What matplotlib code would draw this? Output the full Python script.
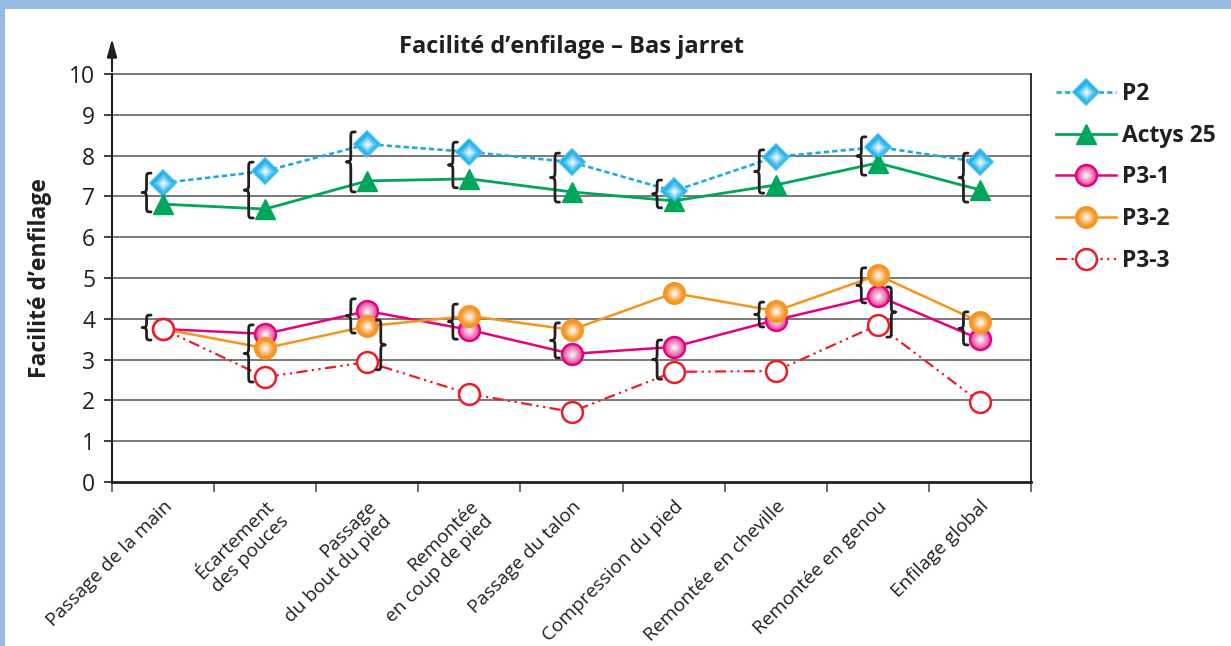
import numpy as np
import matplotlib
matplotlib.use("Agg")
import matplotlib.pyplot as plt
from matplotlib import font_manager
from matplotlib.path import Path
from matplotlib.patches import PathPatch, FancyArrowPatch, Rectangle
from matplotlib.legend_handler import HandlerTuple
from matplotlib.colors import to_rgb

# ---------------- data ----------------
categories = ["Passage de la main", "Écartement\ndes pouces", "Passage\ndu bout du pied",
              "Remontée\nen coup de pied", "Passage du talon", "Compression du pied",
              "Remontée en cheville", "Remontée en genou", "Enfilage global"]
p2 = [7.33, 7.62, 8.28, 8.09, 7.84, 7.13, 7.97, 8.21, 7.84]
actys25 = [6.81, 6.69, 7.38, 7.43, 7.11, 6.89, 7.28, 7.82, 7.16]
p3_1 = [3.75, 3.63, 4.19, 3.73, 3.14, 3.31, 3.97, 4.56, 3.50]
p3_2 = [3.75, 3.28, 3.82, 4.07, 3.73, 4.63, 4.19, 5.07, 3.92]
p3_3 = [3.75, 2.57, 2.94, 2.16, 1.72, 2.70, 2.72, 3.85, 1.96]
yticks = list(range(0, 11))
# braces: (category index, side, low, high)
braces = [(0, "L", 6.62, 7.57), (0, "L", 3.48, 4.09),
          (1, "L", 6.47, 7.84), (1, "L", 2.45, 3.85),
          (2, "L", 7.11, 8.58), (2, "L", 3.65, 4.49), (2, "R", 2.75, 3.97),
          (3, "L", 7.21, 8.33), (3, "L", 3.50, 4.36),
          (4, "L", 6.86, 8.06), (4, "L", 3.04, 3.90),
          (5, "L", 6.72, 7.40), (5, "L", 2.52, 3.48),
          (6, "L", 7.08, 8.14), (6, "L", 3.80, 4.41),
          (7, "L", 7.52, 8.46), (7, "L", 4.39, 5.25), (7, "R", 3.55, 4.78),
          (8, "L", 6.86, 8.06), (8, "L", 3.36, 4.17)]

names = {f.name for f in font_manager.fontManager.ttflist}
base_font = "Open Sans" if "Open Sans" in names else "DejaVu Sans"
plt.rcParams['font.family'] = [base_font, 'DejaVu Sans']

W, H = 1231, 646
fig = plt.figure(figsize=(W / 100, H / 100), dpi=100)
fig.patch.set_facecolor("white")
# blue frame
fig.patches.append(Rectangle((0, 1 - 9 / H), 1, 9 / H, transform=fig.transFigure,
                             facecolor="#95B9E3", edgecolor="none", zorder=0))
fig.patches.append(Rectangle((0, 0), 5 / W, 1, transform=fig.transFigure,
                             facecolor="#95B9E3", edgecolor="none", zorder=0))

L, R, B, T = 112, 1031, 482, 74
ax = fig.add_axes([L / W, (H - B) / H, (R - L) / W, (B - T) / H])
ax.set_xlim(0, len(categories))
ax.set_ylim(0, 10)
ax.patch.set_alpha(0)

for y in yticks[1:]:
    ax.axhline(y, color="#6e6e6e", lw=1.3, zorder=1, clip_on=False)

ax.spines['top'].set_visible(False)
ax.spines['right'].set_color("#231F20")
ax.spines['right'].set_linewidth(1.3)
ax.spines['left'].set_color("#231F20")
ax.spines['left'].set_linewidth(1.5)
ax.spines['bottom'].set_color("#231F20")
ax.spines['bottom'].set_linewidth(2.0)

ax.set_yticks(yticks)
ax.set_yticklabels([str(v) for v in yticks], fontsize=16.5, color="#231F20")
ax.tick_params(axis='y', length=6, width=1.2, color="#231F20", pad=6)

x = np.arange(len(categories)) + 0.5
ax.set_xticks(np.arange(len(categories) + 1))
ax.set_xticklabels([])
ax.tick_params(axis='x', which='major', length=7.5, width=1.2, color="#555555")
ax.set_xticks(x, minor=True)
ax.set_xticklabels(categories, minor=True, rotation=45, ha='right', va='top',
                   rotation_mode='anchor', fontsize=13.8, color="#231F20")
ax.tick_params(axis='x', which='minor', length=0, pad=11)
for lab in ax.get_xticklabels(minor=True):
    lab.set_multialignment('right')

# y-axis arrow
ax.add_patch(FancyArrowPatch((0, 1.0), (0, 1 + 38 / (B - T)), transform=ax.transAxes,
                             arrowstyle='-|>,head_length=0.9,head_width=0.25',
                             mutation_scale=12, color="#231F20", lw=1.5, clip_on=False))


def blend(c, f):
    c = np.array(to_rgb(c))
    return tuple(c + (1 - c) * f)


def shade(xs, ys, marker, ms, color, z):
    """Soft radial highlight layered over a marker."""
    layers = []
    for frac, lf in [(0.78, 0.22), (0.58, 0.45), (0.38, 0.68), (0.2, 0.88)]:
        h, = ax.plot(xs, ys, ls='none', marker=marker, ms=ms * frac,
                     mfc=blend(color, lf), mec='none', zorder=z, clip_on=False)
        layers.append(h)
    return layers


# series
l_p2, = ax.plot(x, p2, color="#1EA9E1", lw=1.9, dashes=(2.0, 1.2), marker='D', ms=13.5,
                mfc="#19AFEA", mec="#45BFEF", mew=1.2, label="P2", zorder=4, clip_on=False)
h_p2 = shade(x, p2, 'D', 12.5, "#19AFEA", 4.1)
l_ac, = ax.plot(x, actys25, color="#00A65A", lw=2.0, marker='^', ms=15,
                mfc="#00A65A", mec="#00A65A", label="Actys 25", zorder=4, clip_on=False)
l_31, = ax.plot(x, p3_1, color="#E6007E", lw=1.8, marker='o', ms=15,
                mfc="#EA62A8", mec="#E6007E", mew=1.8, label="P3-1", zorder=4, clip_on=False)
h_31 = shade(x, p3_1, 'o', 13.5, "#EA62A8", 4.1)
l_32, = ax.plot(x, p3_2, color="#F7941D", lw=1.8, marker='o', ms=15,
                mfc="#F7982A", mec="#F7941D", mew=1.5, label="P3-2", zorder=4.2, clip_on=False)
h_32 = shade(x, p3_2, 'o', 13.5, "#F7982A", 4.3)
l_33, = ax.plot(x, p3_3, color="#ED1C24", lw=1.6, dashes=(5, 2, 1, 2, 1, 2), marker='o',
                ms=15, mfc="white", mec="#ED1C24", mew=1.8, label="P3-3", zorder=5,
                clip_on=False)

# braces
px_x = len(categories) / (R - L)   # data units per pixel (x)
px_y = 10.0 / (B - T)              # data units per pixel (y)


def brace(cat, side, lo, hi):
    w = 9 * px_x
    if side == "L":
        xo = cat + 0.5 - 12 * px_x   # open side
        xt = xo - w                  # tip
    else:
        xo = cat + 0.5 + 9 * px_x
        xt = xo + w
    xm = (xo + xt) / 2
    ym = (lo + hi) / 2
    q = min(7 * px_y, (hi - lo) / 4)
    verts = [(xo, hi), (xm, hi), (xm, hi), (xm, hi - q),
             (xm, ym + q),
             (xm, ym + 0.2 * q), (xm, ym), (xt, ym),
             (xm, ym), (xm, ym - 0.2 * q), (xm, ym - q),
             (xm, lo + q),
             (xm, lo), (xm, lo), (xo, lo)]
    codes = [Path.MOVETO, Path.CURVE4, Path.CURVE4, Path.CURVE4,
             Path.LINETO,
             Path.CURVE4, Path.CURVE4, Path.CURVE4,
             Path.CURVE4, Path.CURVE4, Path.CURVE4,
             Path.LINETO,
             Path.CURVE4, Path.CURVE4, Path.CURVE4]
    ax.add_patch(PathPatch(Path(verts, codes), fill=False, lw=2.0,
                           edgecolor="#231F20", zorder=6, capstyle='round',
                           joinstyle='round', clip_on=False))


for b in braces:
    brace(*b)

ax.set_ylabel("Facilité d’enfilage", fontsize=16.5, fontweight='bold', color="#231F20")
ax.yaxis.set_label_coords(-(L - 52) / (R - L), 0.5)

fig.text((L + R) / 2 / W, 1 - 47 / H, "Facilité d’enfilage – Bas jarret",
         fontsize=17, fontweight='bold', ha='center', va='center', color="#231F20")

leg = fig.legend([tuple([l_p2] + h_p2), l_ac, tuple([l_31] + h_31),
                  tuple([l_32] + h_32), l_33],
                 ["P2", "Actys 25", "P3-1", "P3-2", "P3-3"],
                 handler_map={tuple: HandlerTuple(ndivide=1)},
                 loc='upper left', bbox_to_anchor=(1056 / W, 1 - 82 / H),
                 frameon=False, prop={'weight': 'bold', 'size': 16.5},
                 handlelength=2.6, handletextpad=0.3, labelspacing=0.77,
                 borderpad=0, borderaxespad=0)
for t in leg.get_texts():
    t.set_color("#231F20")

fig.savefig("out.png", dpi=100, facecolor="white")
